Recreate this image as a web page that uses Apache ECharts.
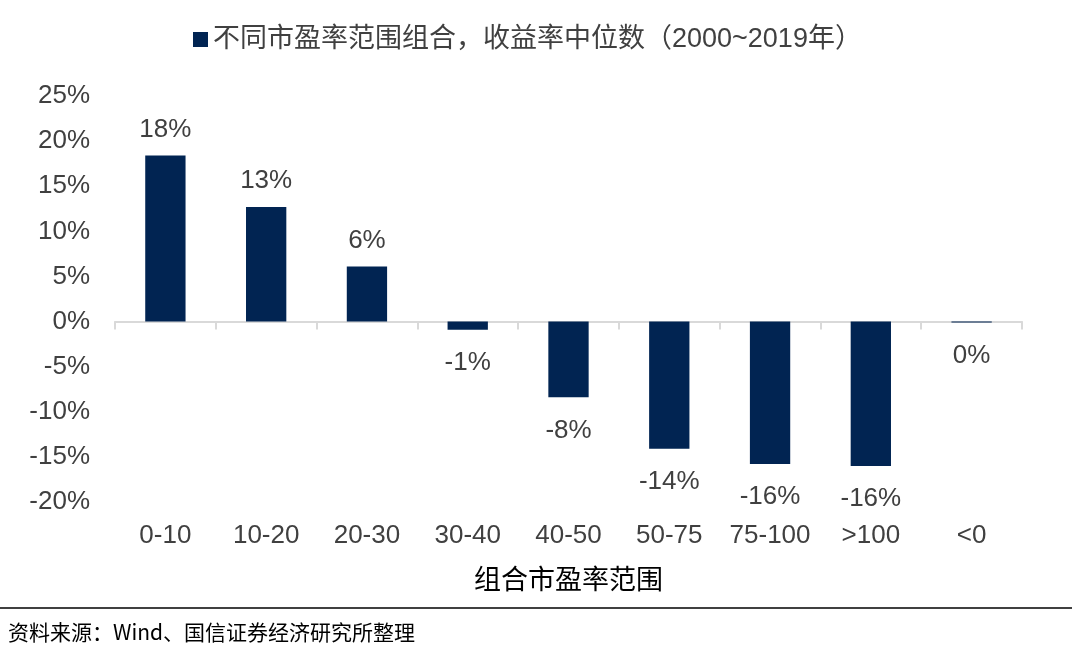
<!DOCTYPE html>
<html><head><meta charset="utf-8">
<script src="https://cdn.jsdelivr.net/npm/echarts@6/dist/echarts.min.js"></script>
<style>html,body{margin:0;padding:0;background:#fff}#c{width:1072px;height:655px}</style>
</head><body><div id="c"></div>
<script>
const categories = ['0-10','10-20','20-30','30-40','40-50','50-75','75-100','>100','<0'];
const medianReturn = [18.4, 12.7, 6.1, -0.9, -8.4, -14.1, -15.8, -16.0, -0.1];
const yTicks = {min: -20, max: 25, interval: 5};
const seriesName = '不同市盈率范围组合，收益率中位数（2000~2019年）';
const axisName = '组合市盈率范围';
const sourceText = '资料来源：Wind、国信证券经济研究所整理';

const FONT = '"Liberation Sans", Arial, "Noto Sans CJK SC", sans-serif';
const chart = echarts.init(document.getElementById('c'));
chart.setOption({
  animation: false,
  textStyle: {fontFamily: FONT},
  legend: {
    data: [seriesName], top: 21, left: 188, icon: 'rect', itemWidth: 15, itemHeight: 15, itemGap: 8,
    textStyle: {fontSize: 27, color: '#404040', fontFamily: FONT}
  },
  grid: {left: 115, right: 50, top: 96, bottom: 153},
  xAxis: [{
    type: 'category', data: categories,
    axisLine: {onZero: true, lineStyle: {color: '#d9d9d9', width: 2}},
    axisTick: {show: true, length: 8, lineStyle: {color: '#d9d9d9', width: 2}},
    axisLabel: {show: false}
  }, {
    type: 'category', data: categories, position: 'bottom',
    axisLine: {show: false}, axisTick: {show: false},
    axisLabel: {fontSize: 26, color: '#404040', margin: 21, interval: 0, fontFamily: FONT},
    name: axisName, nameLocation: 'middle', nameGap: 66,
    nameTextStyle: {fontSize: 27, color: '#000', fontFamily: FONT}
  }],
  yAxis: {
    type: 'value', min: yTicks.min, max: yTicks.max, interval: yTicks.interval,
    splitLine: {show: false}, axisLine: {show: false}, axisTick: {show: false},
    axisLabel: {fontSize: 26, color: '#404040', margin: 25, formatter: v => v + '%', fontFamily: FONT}
  },
  series: [{
    name: seriesName, type: 'bar', xAxisIndex: 0,
    data: medianReturn.map(v => ({
      value: v,
      label: {position: v >= 0 ? 'top' : 'bottom', distance: v >= 0 ? 13 : 20}
    })),
    barWidth: '40%',
    itemStyle: {color: '#012452'},
    label: {
      show: true, fontSize: 26, color: '#404040', fontFamily: FONT,
      formatter: p => Math.round(p.value) + '%'
    }
  }],
  graphic: [
    {type: 'line', shape: {x1: 0, y1: 608, x2: 1072, y2: 608}, style: {stroke: '#000', lineWidth: 1.5}},
    {type: 'text', left: 8, top: 622, style: {text: sourceText, fill: '#000', font: '21px "Noto Sans CJK SC", sans-serif'}}
  ]
});
</script></body></html>
